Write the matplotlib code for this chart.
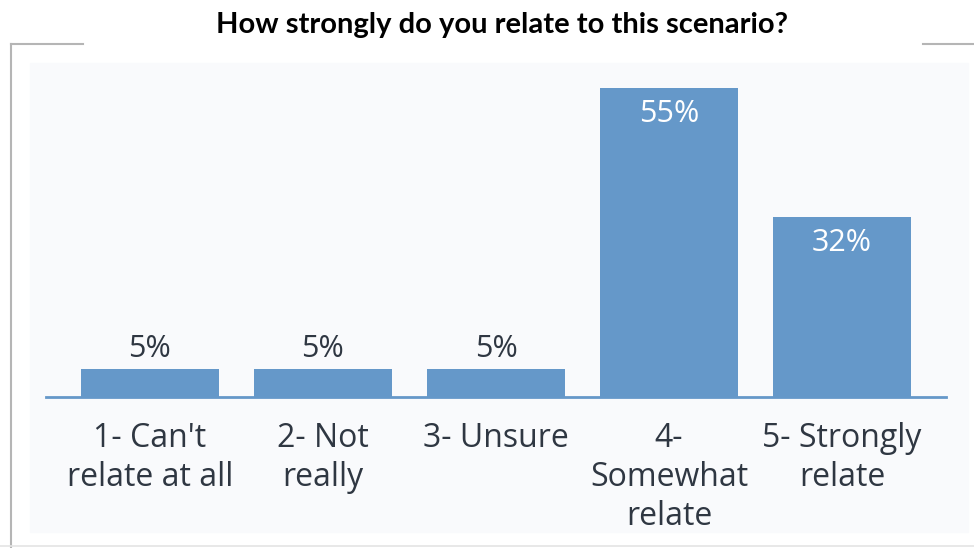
import matplotlib.pyplot as plt
from matplotlib.patches import Rectangle
from matplotlib.lines import Line2D

categories = ["1- Can't\nrelate at all", "2- Not\nreally", "3- Unsure",
              "4-\nSomewhat\nrelate", "5- Strongly\nrelate"]
values = [5, 5, 5, 55, 32]
title = "How strongly do you relate to this scenario?"

bar_color = "#6598c9"
text_color = "#2f3742"

fig = plt.figure(figsize=(9.74, 5.48), dpi=100)
W, H = 974, 548

def fx(px):
    return px / W

def fy(py):
    return 1 - py / H

# panel background and frame lines
fig.patches.append(Rectangle((fx(30), fy(532)), fx(938), (532 - 63) / H,
                             transform=fig.transFigure, color="#f9fafc", zorder=-1))
for xs, ys in [((11, 11), (44, 548)), ((11, 83), (44, 44)), ((923, 974), (44, 44))]:
    fig.lines.append(Line2D([fx(x) for x in xs], [fy(y) for y in ys],
                            transform=fig.transFigure, color="#b5b5b5", lw=1.5, zorder=-1))
fig.lines.append(Line2D([fx(0), fx(974)], [fy(546), fy(546)],
                        transform=fig.transFigure, color="#e4e4e4", lw=1.2, zorder=-1))

ax = fig.add_axes([fx(46), fy(397), 900 / W, (397 - 63) / H])
ax.patch.set_alpha(0)
x = range(len(values))
ax.bar(x, values, width=0.8, color=bar_color, zorder=2)
ax.set_xlim(-0.6, 4.6)
ax.set_ylim(0, 59.45)

for i, v in enumerate(values):
    if v > 20:
        ax.text(i, v - 2.0, f"{v}%", ha="center", va="top", color="white",
                fontsize=22, family="Open Sans")
    else:
        ax.text(i, v + 0.8, f"{v}%", ha="center", va="bottom", color=text_color,
                fontsize=22, family="Open Sans")

ax.set_xticks(list(x))
ax.set_xticklabels(categories, fontsize=23, color=text_color, family="Open Sans",
                   linespacing=1.24)
ax.tick_params(axis="x", length=0, pad=18)
ax.set_yticks([])
for s in ["top", "left", "right"]:
    ax.spines[s].set_visible(False)
ax.spines["bottom"].set_color(bar_color)
ax.spines["bottom"].set_linewidth(2)

fig.text(fx(502), fy(25), title, ha="center", va="center", fontsize=21,
         fontweight="bold", family="Lato", color="black")

fig.savefig("out.png", dpi=100)
